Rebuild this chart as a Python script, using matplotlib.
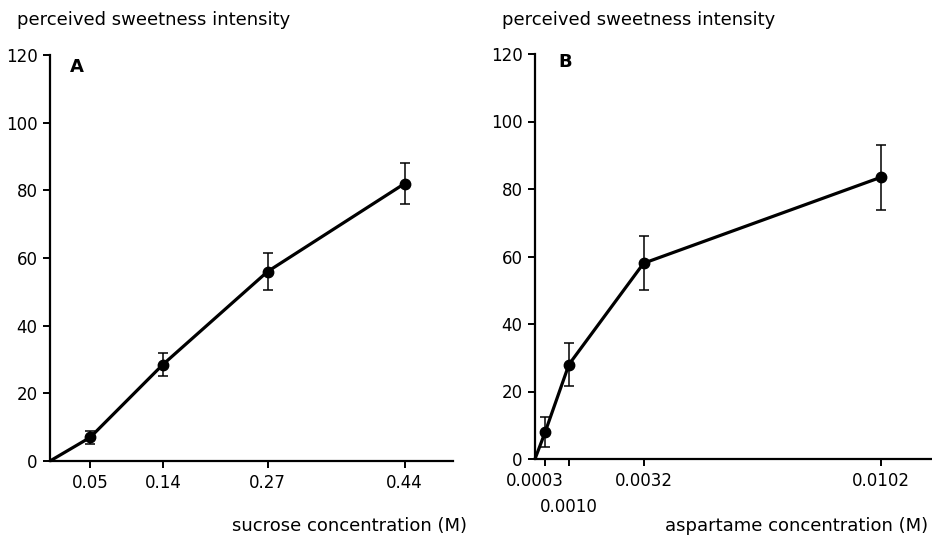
import matplotlib.pyplot as plt
from matplotlib.transforms import ScaledTranslation

# panel A - sucrose
suc_conc = [0.05, 0.14, 0.27, 0.44]
suc_int = [7, 28.5, 56, 82]
suc_err = [2, 3.5, 5.6, 6]

# panel B - aspartame
asp_conc = [0.0003, 0.0010, 0.0032, 0.0102]
asp_int = [8, 28, 58, 83.5]
asp_err = [4.5, 6.5, 8, 9.6]

asp_ticklabels = ['0.0003', '0.0010', '0.0032', '0.0102']
yticks = [0, 20, 40, 60, 80, 100, 120]

plt.rcParams['font.family'] = 'DejaVu Sans'
fig = plt.figure(figsize=(9.32, 5.4), dpi=100)

axA = fig.add_axes([50/932, 79/540, 403/932, 406/540])
axB = fig.add_axes([535/932, 81/540, 397/932, 405/540])


def style(ax):
    for s in ['top', 'right']:
        ax.spines[s].set_visible(False)
    for s in ['left', 'bottom']:
        ax.spines[s].set_linewidth(1.6)
    ax.tick_params(direction='out', length=5, width=1.4, labelsize=12, pad=4)
    ax.set_ylim(0, 120)
    ax.set_yticks(yticks)


def draw(ax, x, y, e):
    ax.plot([0] + x, [0] + y, color='black', lw=2.3, solid_capstyle='butt', clip_on=False, zorder=2)
    ax.errorbar(x, y, yerr=e, fmt='o', color='black', ms=7.5, elinewidth=1.1,
                capsize=3.5, capthick=1.1, clip_on=False, zorder=3)


# ---- A ----
draw(axA, suc_conc, suc_int, suc_err)
style(axA)
axA.set_xlim(0, 0.5)
axA.set_xticks(suc_conc)
axA.set_xticklabels([str(c) for c in suc_conc])
axA.text(0.05, 0.97, 'A', transform=axA.transAxes, fontsize=13, fontweight='bold', va='center')

# ---- B ----
draw(axB, asp_conc, asp_int, asp_err)
style(axB)
axB.set_xlim(0, 0.0117)
axB.set_xticks(asp_conc)
axB.set_xticklabels(asp_ticklabels)
labs = axB.get_xticklabels()
labs[0].set_transform(labs[0].get_transform() + ScaledTranslation(-10/100, 0, fig.dpi_scale_trans))
labs[1].set_transform(labs[1].get_transform() + ScaledTranslation(0, -27/100, fig.dpi_scale_trans))
axB.text(0.06, 0.98, 'B', transform=axB.transAxes, fontsize=13, fontweight='bold', va='center')

# axis titles
fig.text(17/932, 1 - 20/540, 'perceived sweetness intensity', fontsize=13, va='center', ha='left')
fig.text(502/932, 1 - 20/540, 'perceived sweetness intensity', fontsize=13, va='center', ha='left')
fig.text(467/932, 1 - 526/540, 'sucrose concentration (M)', fontsize=13, va='center', ha='right')
fig.text(928/932, 1 - 526/540, 'aspartame concentration (M)', fontsize=13, va='center', ha='right')

plt.savefig('out.png', dpi=100)
